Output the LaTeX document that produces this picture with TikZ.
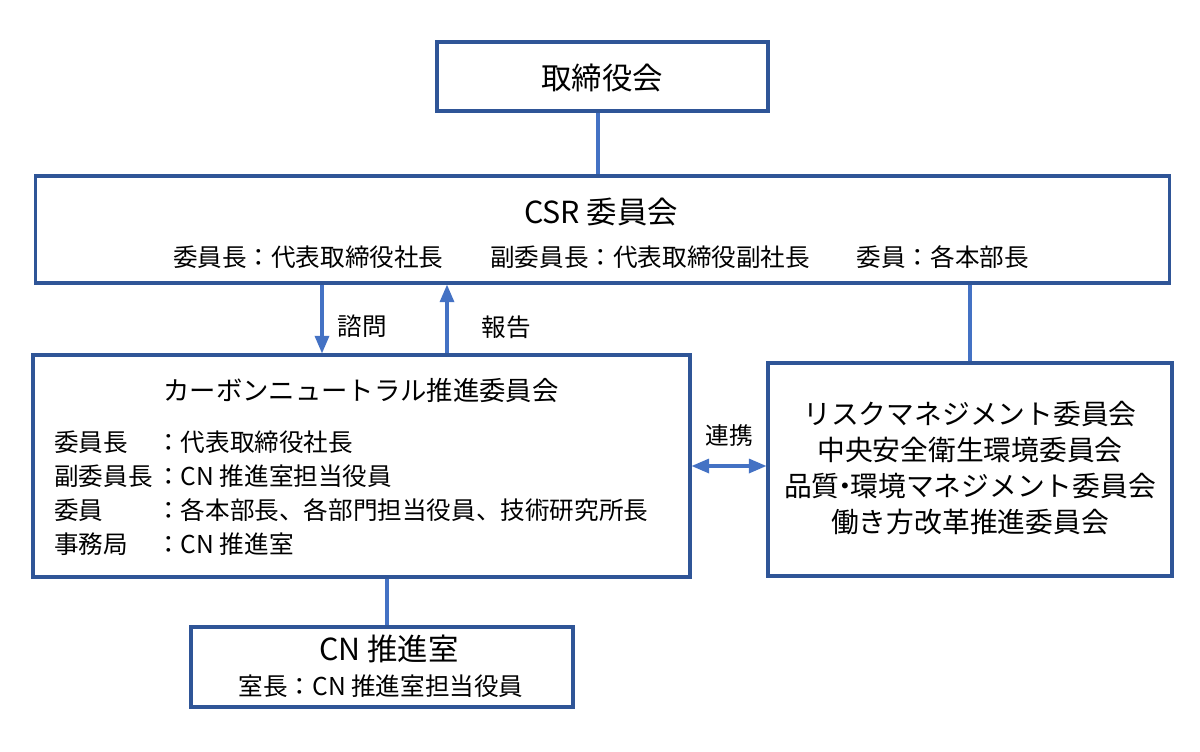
\documentclass[tikz,border=0pt]{standalone}
\usepackage{fontspec}
\setmainfont{Noto Sans CJK JP}
\usetikzlibrary{arrows.meta}
\definecolor{boxblue}{HTML}{2F5597}
\definecolor{lineblue}{HTML}{4472C4}
\tikzset{
  orgbox/.style={draw=boxblue, line width=1.8pt, fill=white, inner sep=0pt},
  conn/.style={draw=lineblue, line width=1.8pt},
  arr/.style={conn, -{Triangle[length=10pt,width=8pt]}},
  darr/.style={conn, {Triangle[length=10pt,width=8pt]}-{Triangle[length=10pt,width=8pt]}},
  ttl/.style={inner sep=0pt, font=\fontsize{17.3pt}{20pt}\selectfont},
  txt/.style={inner sep=0pt, font=\fontsize{14pt}{16pt}\selectfont},
  lbl/.style={inner sep=0pt, font=\fontsize{14pt}{16pt}\selectfont},
}
\begin{document}
\begin{tikzpicture}[x=0.02cm,y=-0.02cm]
\useasboundingbox (0,0) rectangle (1200,751);
% boxes
\node[orgbox, minimum width=6.62cm, minimum height=1.38cm] (board) at (602.5,76.5) {};
\node[orgbox, minimum width=22.7cm, minimum height=2.14cm] (csr) at (602.5,229.5) {};
\node[orgbox, minimum width=13.14cm, minimum height=4.44cm] (cnc) at (361.5,466) {};
\node[orgbox, minimum width=8.08cm, minimum height=4.26cm] (oth) at (970,469.5) {};
\node[orgbox, minimum width=7.64cm, minimum height=1.6cm] (cn) at (382,667) {};
% texts
\node[ttl] (tboard) at (602,78) {取締役会};
\node[ttl] (tcsr) at (601,212) {CSR 委員会};
\node[txt] (scsr) at (601,257) {委員長：代表取締役社長\hspace{1.9em}副委員長：代表取締役副社長\hspace{1.9em}委員：各本部長};
\node[ttl, font=\fontsize{15pt}{18pt}\selectfont] (tcnc) at (361,390) {カーボンニュートラル推進委員会};
\node[txt, anchor=west] (l1) at (54,442) {委員長};
\node[txt, anchor=west] (l2) at (54,476) {副委員長};
\node[txt, anchor=west] (l3) at (54,510) {委員};
\node[txt, anchor=west] (l4) at (54,544) {事務局};
\node[txt, anchor=west] (v1) at (156,442) {：代表取締役社長};
\node[txt, anchor=west] (v2) at (156,476) {：CN 推進室担当役員};
\node[txt, anchor=west] (v3) at (156,510) {：各本部長、各部門担当役員、技術研究所長};
\node[txt, anchor=west] (v4) at (156,544) {：CN 推進室};
\node[txt, align=center, font=\fontsize{15.8pt}{20.4pt}\selectfont] (toth) at (970,468) {リスクマネジメント委員会\\中央安全衛生環境委員会\\品質\hspace{-0.3em}・\hspace{-0.3em}環境マネジメント委員会\\働き方改革推進委員会};
\node[ttl] (tcn) at (389,649) {CN 推進室};
\node[txt] (scn) at (381,686) {室長：CN 推進室担当役員};
\node[lbl] (q) at (362,326) {諮問};
\node[lbl] (r) at (506,327) {報告};
\node[lbl, font=\fontsize{13.5pt}{16pt}\selectfont] (k) at (729,436) {連携};
% connectors
\coordinate (xb) at (598,0);
\coordinate (xq) at (322,0);
\coordinate (xr) at (447,0);
\coordinate (xc) at (387,0);
\draw[conn] (board.south -| xb) -- (csr.north -| xb);
\draw[arr] (csr.south -| xq) -- (cnc.north -| xq);
\draw[arr] (cnc.north -| xr) -- (csr.south -| xr);
\draw[conn] (oth.north) -- (oth.north |- csr.south);
\draw[darr] (cnc.east) -- (oth.west |- cnc.east);
\draw[conn] (cnc.south -| xc) -- (cn.north -| xc);
\end{tikzpicture}
\end{document}
